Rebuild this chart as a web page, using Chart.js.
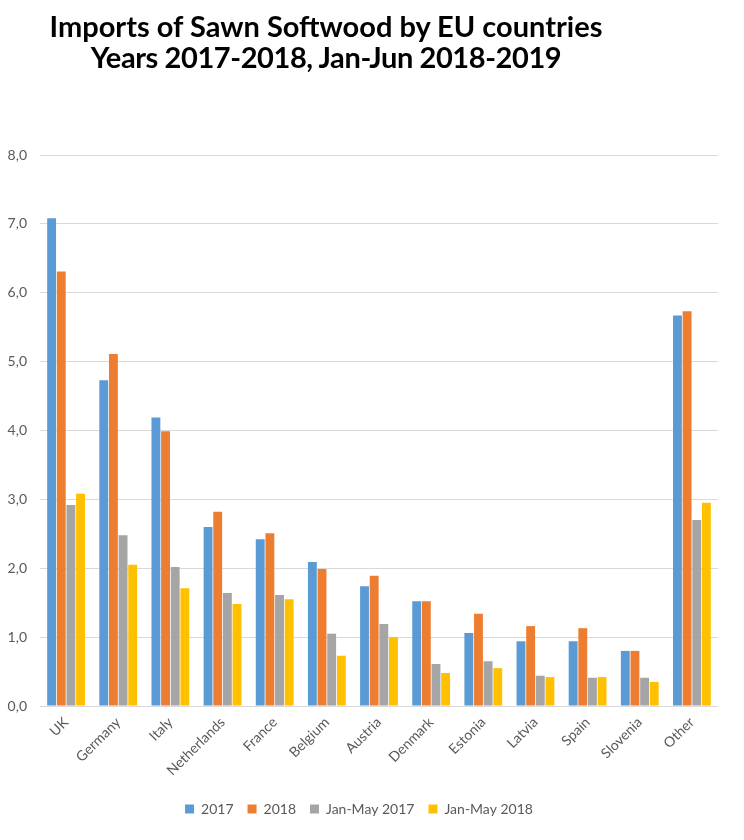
<!DOCTYPE html>
<html>
<head>
<meta charset="utf-8">
<script src="https://cdn.jsdelivr.net/npm/chart.js@4/dist/chart.umd.min.js"></script>
<style>
  html, body { margin: 0; padding: 0; background: #fff; }
  #wrap { width: 744px; height: 840px; position: relative; }
  #title {
    position: absolute; left: 0; top: 10px; width: 652px;
    text-align: center; font-family: Lato, sans-serif; font-weight: bold;
    font-size: 29px; line-height: 31px; color: #000;
  }
  #title .l2 { letter-spacing: -0.4px; }
</style>
</head>
<body>
<div id="wrap">
  <div id="title"></div>
  <canvas id="chart"></canvas>
</div>
<script>
// data
const countries = ["UK", "Germany", "Italy", "Netherlands", "France", "Belgium", "Austria", "Denmark", "Estonia", "Latvia", "Spain", "Slovenia", "Other"];
const year2017 = [7.08, 4.73, 4.19, 2.60, 2.42, 2.09, 1.74, 1.52, 1.06, 0.94, 0.94, 0.80, 5.67];
const year2018 = [6.31, 5.11, 3.99, 2.82, 2.51, 1.99, 1.89, 1.52, 1.34, 1.16, 1.13, 0.80, 5.73];
const janMay2017 = [2.92, 2.48, 2.02, 1.64, 1.61, 1.05, 1.19, 0.61, 0.65, 0.44, 0.41, 0.41, 2.70];
const janMay2018 = [3.08, 2.05, 1.71, 1.48, 1.55, 0.73, 1.00, 0.48, 0.55, 0.42, 0.42, 0.35, 2.95];
const seriesNames = ["2017", "2018", "Jan-May 2017", "Jan-May 2018"];
const yTickLabels = ["0,0", "1,0", "2,0", "3,0", "4,0", "5,0", "6,0", "7,0", "8,0"];
const titleLines = ["Imports of Sawn Softwood by EU countries", "Years 2017-2018, Jan-Jun 2018-2019"];

const colors = ["#5B9BD5", "#ED7D31", "#A5A5A5", "#FFC000"];
const textGray = "#595959";

document.getElementById("title").innerHTML =
  '<div>' + titleLines[0] + '</div><div class="l2">' + titleLines[1] + '</div>';

const ctx = document.getElementById("chart").getContext("2d");
new Chart(ctx, {
  type: "bar",
  data: {
    labels: countries,
    datasets: [year2017, year2018, janMay2017, janMay2018].map((vals, i) => ({
      label: seriesNames[i],
      data: vals,
      backgroundColor: colors[i],
      borderWidth: 0,
      barPercentage: 0.92,
      categoryPercentage: 0.74,
    })),
  },
  options: {
    responsive: true,
    maintainAspectRatio: false,
    animation: false,
    layout: { padding: { left: 0, right: 26, top: 155, bottom: 14 } },
    plugins: {
      legend: {
        position: "bottom",
        labels: {
          boxWidth: 9,
          boxHeight: 9,
          padding: 14,
          color: textGray,
          font: { family: "Lato", size: 14 },
        },
      },
      tooltip: { enabled: false },
    },
    scales: {
      x: {
        afterFit: (scale) => { scale.height += 9; },
        grid: { display: false },
        border: { display: false },
        ticks: {
          color: textGray,
          minRotation: 45,
          maxRotation: 45,
          padding: 0,
          font: { family: "Lato", size: 14 },
        },
      },
      y: {
        min: 0,
        max: 8,
        afterFit: (scale) => { scale.width = 40; },
        grid: { color: "#d9d9d9", drawTicks: false },
        border: { display: false },
        ticks: {
          stepSize: 1,
          padding: 13,
          color: textGray,
          font: { family: "Lato", size: 14 },
          callback: (value, index) => yTickLabels[index],
        },
      },
    },
  },
});
</script>
</body>
</html>
